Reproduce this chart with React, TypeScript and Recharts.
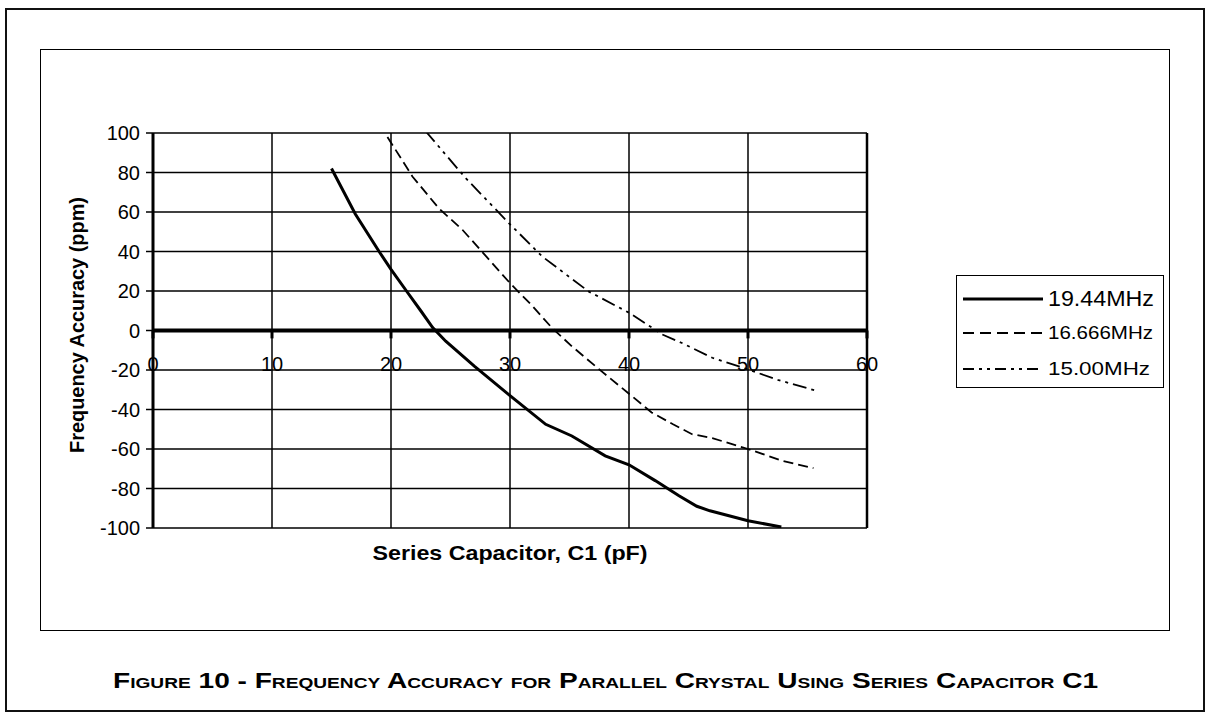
import React from 'react';
import { LineChart, Line, XAxis, YAxis, CartesianGrid, ReferenceLine, ReferenceDot, Legend } from 'recharts';

const FONT = '"Liberation Sans", Arial, Helvetica, sans-serif';

const xTicks = [0, 10, 20, 30, 40, 50, 60];
const yTicks = [-100, -80, -60, -40, -20, 0, 20, 40, 60, 80, 100];

// 19.44 MHz (solid)
const c19x = [15, 17, 19, 20, 21.3, 22.5, 23.5, 24.6, 27, 30, 33, 35.2, 38, 40, 42.2, 44.2, 45.7, 46.8, 50, 52.8];
const c19y = [82, 59, 40, 31, 20, 10, 1.5, -5.4, -18, -33, -47.5, -53.4, -63.5, -68, -76, -83.7, -89, -91.3, -96.3, -99.5];

// 16.666 MHz (dashed)
const c16x = [19.7, 21.8, 24, 26, 28, 30, 31.9, 33.5, 35.2, 37.5, 39.9, 41.9, 43.7, 45.3, 47, 50, 52.9, 55.5];
const c16y = [98, 78, 62, 51, 37.5, 24, 12.3, 1.5, -8, -19.7, -31.5, -41.5, -47.5, -52.5, -54.5, -60, -66, -69.7];

// 15.00 MHz (dash-dot-dot)
const c15x = [22.9, 26.3, 29.9, 32.7, 36.6, 40, 42.8, 44.4, 47, 50, 52.5, 55.8];
const c15y = [101, 77, 54.4, 37.5, 19.8, 9, -2, -6.2, -13.8, -19.7, -25, -30.6];

const seriesNames = ['19.44MHz', '16.666MHz', '15.00MHz'];

const toPoints = (xs: number[], ys: number[]) => xs.map((x, i) => ({ x, y: ys[i] }));

const series = [
  { name: seriesNames[0], data: toPoints(c19x, c19y), width: 3, dash: undefined as string | undefined, legendDash: undefined as string | undefined, fontSize: 22, textLen: 106 },
  { name: seriesNames[1], data: toPoints(c16x, c16y), width: 1.8, dash: '10 5', legendDash: '11 6', fontSize: 19, textLen: 105 },
  { name: seriesNames[2], data: toPoints(c15x, c15y), width: 1.8, dash: '14 5 3 5 3 5', legendDash: '11 5 3 5 3 5', fontSize: 19, textLen: 102 },
];

const YTick = (props: any) => {
  const { x, y, payload } = props;
  return (
    <text x={x} y={y} dy={7} textAnchor="end" fontFamily={FONT} fontSize={20} fill="#000">
      {payload.value}
    </text>
  );
};

const LegendBox = () => {
  const rowsLineY = [24, 58, 94];
  const rowsTextY = [31, 64, 100];
  return (
    <svg width={209} height={114} style={{ display: 'block' }}>
      <rect x={0.5} y={0.5} width={207} height={112} fill="#fff" stroke="#000" strokeWidth={1} />
      {series.map((s, i) => (
        <g key={s.name}>
          <line x1={7} x2={87} y1={rowsLineY[i]} y2={rowsLineY[i]} stroke="#000" strokeWidth={s.width === 3 ? 3 : 2} strokeDasharray={s.legendDash} />
          <text x={92} y={rowsTextY[i]} fontFamily={FONT} fontSize={s.fontSize} fill="#000" textLength={s.textLen} lengthAdjust="spacingAndGlyphs">
            {s.name}
          </text>
        </g>
      ))}
    </svg>
  );
};

const makeXLabel = (v: number) => (props: any) => {
  const vb = props.viewBox || {};
  const cx = (vb.x || 0) + (vb.width || 0) / 2;
  const cy = (vb.y || 0) + (vb.height || 0) / 2;
  return (
    <text x={cx} y={cy + 40} textAnchor="middle" fontFamily={FONT} fontSize={20} fill="#000">
      {v}
    </text>
  );
};

export default function App() {
  const yW = 80;
  const xH = 10;
  return (
    <div style={{ position: 'absolute', left: 0, top: 0, width: 1206, height: 713, background: '#fff', overflow: 'hidden' }}>
      <div style={{ position: 'absolute', left: 5, top: 8, width: 1200, height: 704, border: '2px solid #111', boxSizing: 'border-box' }} />
      <div style={{ position: 'absolute', left: 40, top: 49, width: 1130, height: 582, border: '1px solid #000', boxSizing: 'border-box' }} />
      <div style={{ position: 'absolute', left: 0, top: 0 }}>
        <LineChart
          width={1206}
          height={713}
          margin={{ top: 133, right: 339, bottom: 185 - xH, left: 153 - yW }}
        >
          <CartesianGrid stroke="#000" strokeWidth={1.5} vertical={false} />
          <XAxis
            type="number"
            dataKey="x"
            domain={[0, 60]}
            ticks={xTicks}
            tick={false}
            axisLine={false}
            tickLine={false}
            height={xH}
            allowDataOverflow
          />
          <YAxis
            type="number"
            domain={[-100, 100]}
            ticks={yTicks}
            allowDataOverflow
            width={yW}
            tick={<YTick />}
            tickSize={7}
            tickMargin={6}
            axisLine={{ stroke: '#000', strokeWidth: 3 }}
            tickLine={{ stroke: '#000', strokeWidth: 1.5 }}
          />
          {xTicks.filter((t) => t > 0 && t < 60).map((t) => (
            <ReferenceLine key={'gv' + t} x={t} stroke="#000" strokeWidth={1.5} />
          ))}
          <ReferenceLine x={60} stroke="#000" strokeWidth={2.5} />
          <ReferenceLine y={0} stroke="#000" strokeWidth={4} />
          {xTicks.map((t) => (
            <ReferenceLine key={'tk' + t} segment={[{ x: t, y: 0 }, { x: t, y: -4 }]} stroke="#000" strokeWidth={3} />
          ))}
          {xTicks.map((t) => (
            <ReferenceDot key={'lb' + t} x={t} y={0} r={0} fill="none" stroke="none" label={makeXLabel(t)} />
          ))}
          {series.map((s) => (
            <Line
              key={s.name}
              name={s.name}
              data={s.data}
              dataKey="y"
              type="linear"
              stroke="#000"
              strokeWidth={s.width}
              strokeDasharray={s.dash}
              dot={false}
              activeDot={false}
              isAnimationActive={false}
            />
          ))}
          <Legend
            verticalAlign="middle"
            align="center"
            content={() => <LegendBox />}
            wrapperStyle={{ left: 956, top: 275, width: 209, height: 114 }}
          />
        </LineChart>
      </div>
      <svg width={1206} height={713} style={{ position: 'absolute', left: 0, top: 0, pointerEvents: 'none' }}>
        <text x={510} y={560} textAnchor="middle" fontFamily={FONT} fontWeight="bold" fontSize={21} fill="#000" textLength={275} lengthAdjust="spacingAndGlyphs">
          Series Capacitor, C1 (pF)
        </text>
        <text transform="translate(84,325) rotate(-90)" x={0} y={0} textAnchor="middle" fontFamily={FONT} fontWeight="bold" fontSize={21} fill="#000" textLength={256} lengthAdjust="spacingAndGlyphs">
          Frequency Accuracy (ppm)
        </text>
        <text x={113} y={688} fontFamily={FONT} fontWeight="bold" fontSize={22} fill="#000" style={{ fontVariant: 'small-caps' }} textLength={985} lengthAdjust="spacingAndGlyphs">
          Figure 10 - Frequency Accuracy for Parallel Crystal Using Series Capacitor C1
        </text>
      </svg>
    </div>
  );
}
